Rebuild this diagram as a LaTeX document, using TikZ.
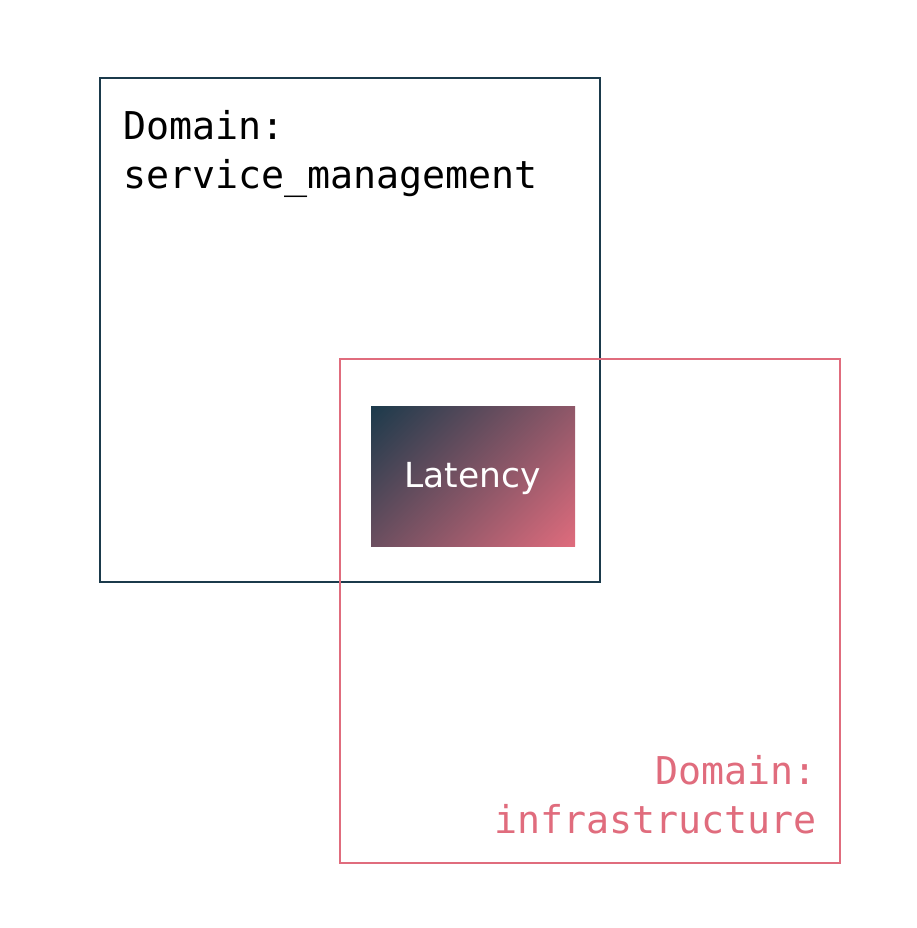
\documentclass[tikz,border=0pt]{standalone}
\usepackage{fontspec}
\setmonofont{DejaVu Sans Mono}
\setsansfont{DejaVu Sans}
\definecolor{navy}{HTML}{1B3A4B}
\definecolor{rose}{HTML}{E06C7D}
\begin{document}
\begin{tikzpicture}[x=1pt, y=-1pt, line width=2pt,
    domainbox/.style={draw, inner sep=0pt, outer sep=0pt, minimum width=500pt, minimum height=504pt, anchor=north west},
    domaintext/.style={inner sep=0pt, font=\ttfamily\fontsize{38.3}{48}\selectfont}]
    \useasboundingbox (0,0) rectangle (916,928);
    \node[domainbox, navy] (svc) at (100,78) {};
    \node[domainbox, rose] (infra) at (340,359) {};
    \node[domaintext, anchor=base west] (svc1) at (122,140) {Domain:};
    \node[domaintext, anchor=base west] (svc2) at (122,189) {service\_management};
    \node[domaintext, rose, anchor=base east] (infra1) at (818,784) {Domain:};
    \node[domaintext, rose, anchor=base east] (infra2) at (818,833) {infrastructure};
    % metric box, gradient runs corner to corner
    \coordinate (metric) at (473,476);
    \begin{scope}
        \clip (371,406) rectangle (575,546);
        \begin{scope}[transform canvas={shift={(metric)}, rotate=45}]
            \shade[top color=navy, bottom color=rose] (-122,-122) rectangle (122,122);
        \end{scope}
    \end{scope}
    \node[white, inner sep=0pt, anchor=base, font=\sffamily\fontsize{34.5}{42}\selectfont] (lat) at (472.5,487) {Latency};
\end{tikzpicture}
\end{document}
